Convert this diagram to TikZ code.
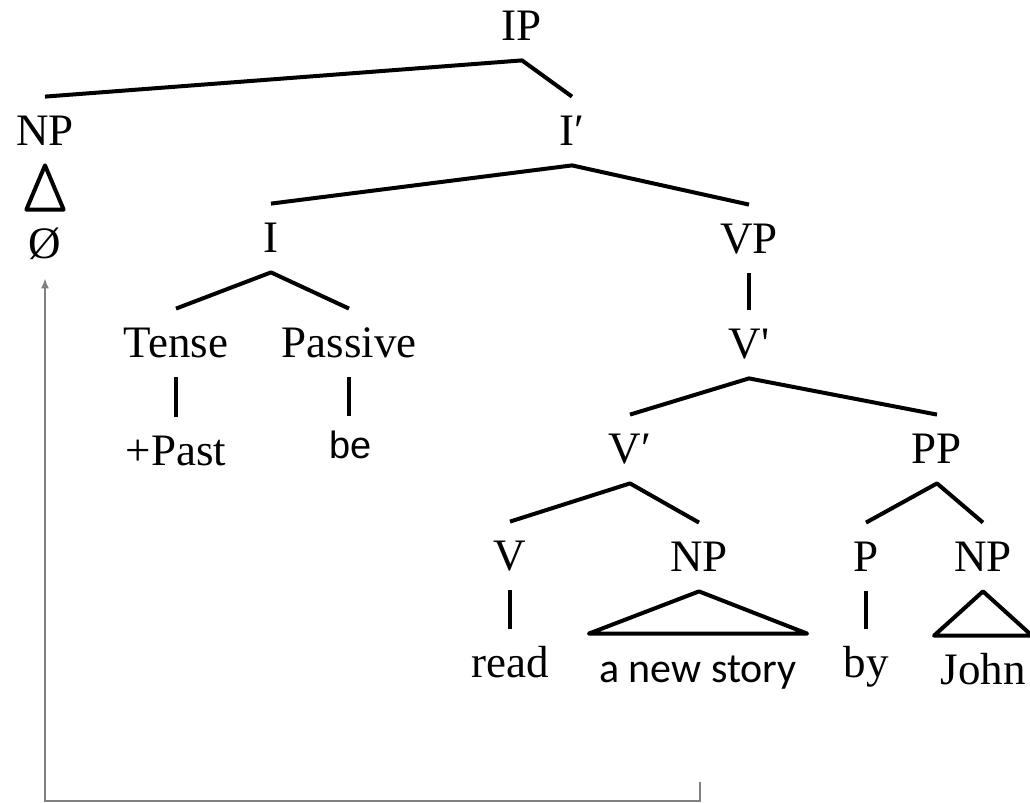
\documentclass[tikz,border=0pt]{standalone}
\usepackage{fontspec}
\usetikzlibrary{arrows.meta}
\newfontfamily\treeserif{Liberation Serif}
\newfontfamily\treesans{Liberation Sans}
\newfontfamily\treecond{Carlito}
\begin{document}
\begin{tikzpicture}[x=0.5pt,y=-0.5pt,
  lbl/.style={font=\treeserif\fontsize{22.5}{27}\selectfont,
    text height=15pt, text depth=1pt, inner ysep=9pt, inner xsep=2pt, anchor=base},
  branch/.style={line width=2pt, line join=round},
  move/.style={draw=black!50, line width=0.8pt, -{Latex[length=5pt,width=4pt]}}]
\useasboundingbox (0,0) rectangle (1030,803);

% labels, placed on their baselines
\node[lbl] (ip) at (522,40) {IP};
\node[lbl] (np0) at (45,145) {NP};
\node[lbl] (ibar) at (572,145) {I′};
\node[lbl, inner xsep=1pt] (empty) at (45,258) {Ø};
\node[lbl] (i) at (271,252) {I};
\node[lbl] (vp) at (749,253) {VP};
\node[lbl] (tense) at (176,357) {Tense};
\node[lbl] (passive) at (349,357) {Passive};
\node[lbl] (vbar) at (749,358) {V'};
\node[lbl] (past) at (176,465) {+Past};
\node[lbl, font=\treesans\fontsize{19}{23}\selectfont, text height=12pt] (be) at (351,458) {be};
\node[lbl] (vbarb) at (630,463) {V′};
\node[lbl] (pp) at (937,463) {PP};
\node[lbl] (v) at (510,570) {V};
\node[lbl] (np1) at (699,571) {NP};
\node[lbl] (p) at (866,571) {P};
\node[lbl] (np2) at (983,571) {NP};
\node[lbl] (read) at (510,677) {read};
\node[lbl, font=\treecond\fontsize{21}{25}\selectfont, inner xsep=5pt] (story) at (698,682) {a new story};
\node[lbl] (by) at (866,677) {by};
\node[lbl, inner xsep=3pt] (john) at (983,684) {John};

% branches
\draw[branch] (np0.north) -- (ip.south) -- (ibar.north);
\draw[branch] (i.north) -- (ibar.south) -- (vp.north);
\draw[branch] (tense.north) -- (i.south) -- (passive.north);
\draw[branch] (tense.south) -- (tense.south |- past.north);
\draw[branch] (passive.south) -- (passive.south |- be.north);
\draw[branch] (vp.south) -- (vbar.north);
\draw[branch] (vbarb.north) -- (vbar.south) -- (pp.north);
\draw[branch] (v.north) -- (vbarb.south) -- (np1.north);
\draw[branch] (p.north) -- (pp.south) -- (np2.north);
\draw[branch] (v.south) -- (read.north);
\draw[branch] (p.south) -- (by.north);

% triangles over unanalysed phrases
\draw[branch] (np0.south) -- (empty.north east) -- (empty.north west) -- cycle;
\draw[branch] (np1.south) -- (story.north east) -- (story.north west) -- cycle;
\draw[branch] (np2.south) -- (john.north east) -- (john.north west) -- cycle;

% movement arrow
\coordinate (trace) at (700,782);
\coordinate (corner) at (700,801);
\draw[move] (trace) -- (corner) -| (empty.south);
\end{tikzpicture}
\end{document}
